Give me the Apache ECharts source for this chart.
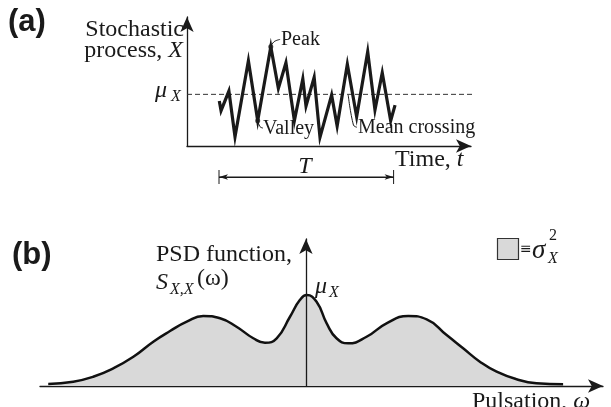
<!DOCTYPE html>
<html>
<head>
<meta charset="utf-8">
<script src="https://cdn.jsdelivr.net/npm/echarts@6/dist/echarts.min.js"></script>
<style>
  html, body { margin: 0; padding: 0; background: #fff; }
  #chart { width: 611px; height: 407px; }
</style>
</head>
<body>
<div id="chart"></div>
<script>
// (a) 随机过程样本
const zigT = [11.1, 11.7, 14.4, 16.5, 21.1, 24.3, 28.8, 31.4, 34.0, 36.9, 39.8, 40.9, 43.7, 45.7, 49.7, 51.6, 55.1, 58.3, 62.1, 64.6, 67.1, 70.0, 71.5];
const zigX = [33.1, 26.0, 40.4, 6.8, 62.7, 18.6, 73.0, 42.4, 61.3, 18.6, 49.3, 29.4, 50.5, 6.4, 37.5, 14.7, 60.1, 21.5, 69.3, 26.5, 53.9, 18.6, 30.1];
const meanX = 38.0;
const spanT = [11.0, 71.0];

// 标注引线 (Peak / Valley / Mean crossing)
const peakLead = [[28.8, 73.0], [29.9, 76.7], [32.0, 78.4]];
const valleyLead = [[24.3, 18.6], [25.1, 14.2], [26.1, 13.2]];
const crossLead = [[55.4, 37.5], [57.2, 15.4], [58.4, 13.8]];

// (b) 功率谱密度
const psdW = [-96.9, -87.5, -80.0, -72.4, -64.9, -57.4, -51.1, -44.8, -38.6, -32.3, -26.1, -19.8, -15.4, -11.0, -6.0, -2.3, 0.3, 4.0, 7.8, 11.5, 15.9, 22.8, 30.3, 38.5, 45.4, 52.9, 59.1, 65.4, 71.7, 79.2, 86.7, 96.7];
const psdS = [1.3, 2.8, 6.0, 11.5, 19.0, 28.8, 35.7, 41.8, 45.5, 44.0, 38.5, 31.0, 28.1, 31.0, 45.0, 55.8, 59.1, 54.7, 40.7, 31.0, 27.7, 32.0, 40.7, 45.5, 43.3, 33.1, 24.5, 15.8, 9.3, 4.4, 1.8, 1.1];

const serif = '"Liberation Serif", "DejaVu Serif", serif';
const ink = '#1a1a1a';

const chart = echarts.init(document.getElementById('chart'));

const arrowAxis = (extra) => Object.assign({
    type: 'value',
    axisLine: { show: true, onZero: true, symbol: ['none', 'arrow'], symbolSize: [10, 15], lineStyle: { color: ink, width: 1.3 } },
    axisTick: { show: false },
    axisLabel: { show: false },
    splitLine: { show: false }
}, extra);

const hiddenAxis = (extra) => Object.assign({
    type: 'value', show: false, splitLine: { show: false }
}, extra);

// 文本辅助
const txt = (x, y, text, size, opts) => ({
    type: 'text',
    z: 100,
    style: Object.assign({
        x: x, y: y, text: text,
        font: (opts && opts.italic ? 'italic ' : '') + size + 'px ' + serif,
        fill: ink,
        textAlign: 'left',
        textVerticalAlign: 'middle'
    }, opts && opts.style)
});

chart.setOption({
    animation: false,
    backgroundColor: '#fff',
    grid: [
        { left: 187, top: 17, width: 284, height: 129 },
        { left: 187, top: 170, width: 284, height: 14 },
        { left: 40, top: 239, width: 563, height: 147 }
    ],
    xAxis: [
        arrowAxis({ gridIndex: 0, min: 0, max: 97.6 }),
        hiddenAxis({ gridIndex: 1, min: 0, max: 97.6 }),
        arrowAxis({ gridIndex: 2, min: -100, max: 111.7 })
    ],
    yAxis: [
        arrowAxis({ gridIndex: 0, min: 0, max: 94.9 }),
        hiddenAxis({ gridIndex: 1, min: -1, max: 1 }),
        arrowAxis({ gridIndex: 2, min: 0, max: 95.5, z: 5 })
    ],
    series: [
        {
            type: 'line', xAxisIndex: 0, yAxisIndex: 0, clip: false, symbol: 'none',
            lineStyle: { color: '#333', width: 1, type: [5, 3] },
            data: [[0, meanX], [99.7, meanX]]
        },
        {
            type: 'line', xAxisIndex: 0, yAxisIndex: 0, symbol: 'none',
            lineStyle: { color: ink, width: 3.2, join: 'miter', miterLimit: 10 },
            data: zigT.map((t, i) => [t, zigX[i]])
        },
        ...[peakLead, valleyLead, crossLead].map(d => ({
            type: 'line', xAxisIndex: 0, yAxisIndex: 0, symbol: 'none', smooth: 0.4,
            lineStyle: { color: ink, width: 1 },
            data: d
        })),
        {
            type: 'scatter', xAxisIndex: 0, yAxisIndex: 0, symbolSize: 5,
            itemStyle: { color: ink },
            data: [peakLead[0], valleyLead[0]]
        },
        // T 区间
        {
            type: 'line', xAxisIndex: 1, yAxisIndex: 1, symbol: 'none',
            lineStyle: { color: ink, width: 1 },
            data: [[spanT[0], 0], [spanT[1], 0]],
            markLine: {
                silent: true, symbol: ['arrow', 'arrow'], symbolSize: [4, 9],
                label: { show: false },
                lineStyle: { color: ink, width: 1, type: 'solid' },
                data: [[{ coord: [spanT[0], 0] }, { coord: [spanT[1], 0] }]]
            }
        },
        ...spanT.map(t => ({
            type: 'line', xAxisIndex: 1, yAxisIndex: 1, symbol: 'none',
            lineStyle: { color: ink, width: 1 },
            data: [[t, -1], [t, 1]]
        })),
        // PSD 曲线
        {
            type: 'line', xAxisIndex: 2, yAxisIndex: 2, symbol: 'none',
            smooth: 0.5,
            lineStyle: { color: '#111', width: 2.5 },
            areaStyle: { color: '#d9d9d9', opacity: 1 },
            data: psdW.map((w, i) => [w, psdS[i]])
        }
    ],
    graphic: [
        txt(8, 22, '(a)', 31, { style: { font: 'bold 31px "Liberation Sans", Arial, sans-serif' } }),
        txt(12, 255, '(b)', 31, { style: { font: 'bold 31px "Liberation Sans", Arial, sans-serif' } }),
        txt(184, 30, 'Stochastic', 24, { style: { textAlign: 'right' } }),
        {
            type: 'text', z: 100,
            style: {
                x: 183, y: 51, textAlign: 'right', textVerticalAlign: 'middle',
                text: '{n|process, }{i|X}',
                rich: {
                    n: { font: '24px ' + serif, fill: ink },
                    i: { font: 'italic 24px ' + serif, fill: ink }
                }
            }
        },
        txt(155, 91, 'μ', 24, { italic: true }),
        txt(171, 97, 'X', 16, { italic: true }),
        txt(281, 40, 'Peak', 20),
        txt(263, 129, 'Valley', 20),
        txt(358, 128, 'Mean crossing', 20),
        {
            type: 'text', z: 100,
            style: {
                x: 395, y: 160, textAlign: 'left', textVerticalAlign: 'middle',
                text: '{n|Time, }{i|t}',
                rich: {
                    n: { font: '24px ' + serif, fill: ink },
                    i: { font: 'italic 24px ' + serif, fill: ink }
                }
            }
        },
        txt(305, 167, 'T', 24, { italic: true, style: { textAlign: 'center' } }),
        txt(156, 255, 'PSD function,', 24),
        txt(156, 283, 'S', 24, { italic: true }),
        txt(170, 290, 'X,X', 16, { italic: true }),
        txt(197, 279, '(ω)', 24),
        txt(315, 287, 'μ', 24, { italic: true }),
        txt(329, 293, 'X', 16, { italic: true }),
        {
            type: 'rect', z: 100,
            shape: { x: 497.5, y: 238.5, width: 21, height: 21 },
            style: { fill: '#d9d9d9', stroke: '#333', lineWidth: 1.2 }
        },
        txt(520, 249, '≡', 14, { style: { font: '14px "DejaVu Sans", sans-serif' } }),
        txt(532, 251, 'σ', 27, { italic: true }),
        txt(549, 236, '2', 16),
        txt(548, 259, 'X', 16, { italic: true }),
        {
            type: 'text', z: 100,
            style: {
                x: 472, y: 402, textAlign: 'left', textVerticalAlign: 'middle',
                text: '{n|Pulsation, }{i|ω}',
                rich: {
                    n: { font: '24px ' + serif, fill: ink },
                    i: { font: 'italic 24px ' + serif, fill: ink }
                }
            }
        }
    ]
});

window.addEventListener('resize', () => chart.resize());
</script>
</body>
</html>
